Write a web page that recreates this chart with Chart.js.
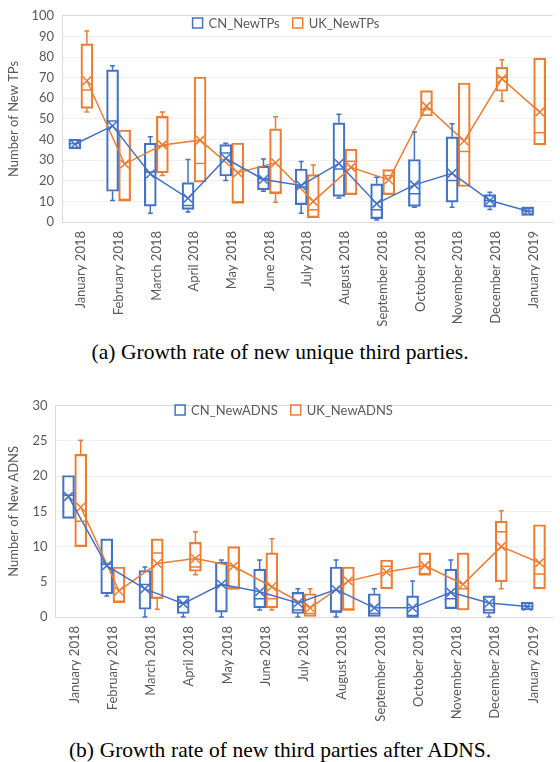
<!DOCTYPE html>
<html><head><meta charset="utf-8">
<script src="https://cdn.jsdelivr.net/npm/chart.js@4.4.1/dist/chart.umd.min.js"></script>
<style>
html,body{margin:0;padding:0;background:#fff;}
body{width:560px;height:762px;position:relative;overflow:hidden;}
.wrap{position:absolute;left:0;width:560px;height:335px;}
.cap{position:absolute;left:0;width:560px;text-align:center;font-family:"Liberation Serif","Times New Roman",serif;font-size:21.5px;line-height:24px;color:#000;word-spacing:0.3px;white-space:nowrap;}
</style></head>
<body>
<div class="wrap" style="top:0"><canvas id="c1"></canvas></div>
<div class="cap" style="top:340px">(a) Growth rate of new unique third parties.</div>
<div class="wrap" style="top:390px"><canvas id="c2"></canvas></div>
<div class="cap" style="top:738px">(b) Growth rate of new third parties after ADNS.</div>
<script>
const months = ['January 2018','February 2018','March 2018','April 2018','May 2018','June 2018','July 2018','August 2018','September 2018','October 2018','November 2018','December 2018','January 2019'];

// (a) New TPs
const tpCnMin  = [35.5,10.4, 4.3, 4.8,20.1,14.9, 4.3,11.6, 1.0, 7.2, 7.2, 6.1, 3.2];
const tpCnQ1   = [35.5,14.9, 7.7, 6.1,22.3,15.6, 8.4,12.4, 1.6, 7.6, 9.6, 7.2, 3.2];
const tpCnMed  = [38.0,49.0,24.3, 8.0,33.5,21.0,17.0,25.7, 6.0,13.7,20.1,10.4, 5.3];
const tpCnQ3   = [40.2,73.8,38.2,19.1,37.5,27.1,25.7,48.1,18.5,30.3,41.3,13.3, 7.2];
const tpCnMax  = [40.2,75.8,41.4,30.3,38.2,30.5,29.4,52.2,21.7,43.7,47.7,14.4, 7.2];
const tpCnMean = [37.7,46.6,23.3,11.5,30.8,20.6,17.7,28.4, 8.9,18.0,23.6,10.4, 5.3];
const tpUkMin  = [53.4,10.4,22.5,19.3, 9.3, 9.6, 2.1,13.3,13.3,51.4,17.2,58.6,37.4];
const tpUkQ1   = [55.1,10.4,23.8,19.3, 9.3,13.9, 2.1,13.3,13.3,51.4,17.2,63.4,37.4];
const tpUkMed  = [64.0,10.4,37.0,28.4, 9.3,13.9, 6.0,29.4,22.5,54.6,34.2,70.1,43.3];
const tpUkQ3   = [86.4,44.6,51.2,70.3,38.3,45.2,23.0,35.3,25.4,63.7,67.4,75.0,79.5];
const tpUkMax  = [92.6,44.6,53.3,70.3,38.3,51.0,27.6,35.3,25.4,63.7,67.4,78.7,79.5];
const tpUkMean = [68.5,28.1,37.4,39.7,23.9,28.7,10.0,26.5,20.4,56.2,39.3,69.5,53.3];

// (b) New ADNS
const adCnMin  = [14.0, 3.0, 0.0, 0.0, 0.0, 1.0, 0.0, 0.0, 0.0, 0.0, 1.2, 0.0, 1.0];
const adCnQ1   = [14.0, 3.3, 1.1, 0.5, 0.7, 1.3, 0.5, 0.7, 0.0, 0.0, 1.2, 0.5, 1.0];
const adCnMed  = [17.3, 7.5, 4.6, 2.0, 4.5, 2.6, 1.0, 0.7, 0.5, 0.0, 2.6, 1.0, 1.5];
const adCnQ3   = [20.1,11.1, 6.6, 3.0, 7.8, 6.8, 3.5, 7.1, 3.3, 3.0, 6.8, 3.0, 2.1];
const adCnMax  = [20.1,11.1, 7.1, 3.0, 8.1, 8.1, 4.0, 8.1, 4.0, 5.1, 8.1, 3.0, 2.1];
const adCnMean = [17.1, 7.3, 4.0, 1.9, 4.65,3.6, 2.0, 3.9, 1.3, 1.3, 3.5, 2.0, 1.5];
const adUkMin  = [10.0, 2.1, 1.1, 6.0, 4.0, 1.0, 0.0, 1.0, 4.0, 6.0, 1.0, 4.0, 4.0];
const adUkQ1   = [10.0, 2.1, 2.6, 6.5, 4.0, 1.3, 0.0, 1.0, 4.0, 6.0, 1.0, 5.0, 4.0];
const adUkMed  = [13.6, 2.1, 9.1, 7.1, 4.0, 2.6, 0.5, 1.0, 7.2, 6.0, 4.0,12.1, 6.1];
const adUkQ3   = [23.1, 7.1,11.1,10.6,10.0, 9.1, 3.3, 7.1, 8.1, 9.1, 9.1,13.6,13.1];
const adUkMax  = [25.1, 7.1,11.1,12.1,10.0,11.1, 4.0, 7.1, 8.1, 9.1, 9.1,15.1,13.1];
const adUkMean = [15.6, 3.7, 7.6, 8.3, 7.2, 4.3, 1.3, 5.1, 6.4, 7.3, 4.65,10.0,7.7];

const BLUE = '#4472C4', ORANGE = '#ED7D31', TXT = '#595959';
const OFF = 0.16;        // half-group offset in category units
const BOX_W = 12;        // box width in px

function whiskerPlugin(series) {
  return {
    id: 'whiskers',
    afterDatasetsDraw(chart) {
      const ctx = chart.ctx, ys = chart.scales.y;
      series.forEach((s, di) => {
        const meta = chart.getDatasetMeta(di);
        ctx.save();
        ctx.strokeStyle = s.color;
        ctx.lineWidth = 1.5;
        meta.data.forEach((el, i) => {
          const x = el.x, hw = el.width / 2;
          const pMin = ys.getPixelForValue(s.min[i]);
          const pQ1 = ys.getPixelForValue(s.q1[i]);
          const pMed = ys.getPixelForValue(s.med[i]);
          const pQ3 = ys.getPixelForValue(s.q3[i]);
          const pMax = ys.getPixelForValue(s.max[i]);
          ctx.beginPath();
          if (s.max[i] > s.q3[i]) {
            ctx.moveTo(x, pQ3); ctx.lineTo(x, pMax);
            ctx.moveTo(x - 2.5, pMax); ctx.lineTo(x + 2.5, pMax);
          }
          if (s.min[i] < s.q1[i]) {
            ctx.moveTo(x, pQ1); ctx.lineTo(x, pMin);
            ctx.moveTo(x - 2.5, pMin); ctx.lineTo(x + 2.5, pMin);
          }
          ctx.moveTo(x - hw, pMed); ctx.lineTo(x + hw, pMed);
          ctx.stroke();
        });
        ctx.restore();
      });
    }
  };
}

function legendPlugin(items, cx, cy) {
  return {
    id: 'boxLegend',
    afterDraw(chart) {
      const ctx = chart.ctx;
      ctx.save();
      ctx.font = '13px Lato';
      const box = 10, gap = 6, sep = 13;
      const ws = items.map(it => ctx.measureText(it.text).width);
      const total = ws.reduce((a, w) => a + box + gap + w, 0) + sep * (items.length - 1);
      let x = cx - total / 2;
      items.forEach((it, k) => {
        ctx.strokeStyle = it.color;
        ctx.lineWidth = 1.5;
        ctx.strokeRect(x, cy - box / 2, box, box);
        ctx.fillStyle = TXT;
        ctx.textBaseline = 'middle';
        ctx.textAlign = 'left';
        ctx.fillText(it.text, x + box + gap, cy + 0.5);
        x += box + gap + ws[k] + sep;
      });
      ctx.restore();
    }
  };
}

function makeChart(id, cfg) {
  const series = [
    {color: BLUE, min: cfg.cn.min, q1: cfg.cn.q1, med: cfg.cn.med, q3: cfg.cn.q3, max: cfg.cn.max},
    {color: ORANGE, min: cfg.uk.min, q1: cfg.uk.q1, med: cfg.uk.med, q3: cfg.uk.q3, max: cfg.uk.max}
  ];
  const boxDs = (lbl, s, color, off) => ({
    type: 'bar', label: lbl, order: 2,
    data: s.q1.map((v, i) => ({x: i + off, y: [v, s.q3[i]]})),
    backgroundColor: 'rgba(0,0,0,0)', borderColor: color, borderWidth: 1.5,
    borderSkipped: false, grouped: false, barThickness: BOX_W,
    xAxisID: 'xl', yAxisID: 'y'
  });
  const meanDs = (lbl, mean, color, off) => ({
    type: 'line', label: lbl, order: 1,
    data: mean.map((v, i) => ({x: i + off, y: v})),
    borderColor: color, backgroundColor: color, borderWidth: 1.5,
    pointStyle: 'crossRot', pointRadius: 6, pointBorderWidth: 1.5,
    pointBorderColor: color, fill: false, tension: 0,
    xAxisID: 'xl', yAxisID: 'y'
  });
  return new Chart(document.getElementById(id), {
    type: 'bar',
    data: {
      labels: months,
      datasets: [
        boxDs(cfg.legend[0], cfg.cn, BLUE, -OFF),
        boxDs(cfg.legend[1], cfg.uk, ORANGE, OFF),
        meanDs(cfg.legend[0] + ' mean', cfg.cn.mean, BLUE, -OFF),
        meanDs(cfg.legend[1] + ' mean', cfg.uk.mean, ORANGE, OFF)
      ]
    },
    options: {
      responsive: true, maintainAspectRatio: false, animation: false,
      layout: {padding: {top: cfg.padTop, right: cfg.padRight, left: 0, bottom: 0}},
      plugins: {legend: {display: false}, tooltip: {enabled: false}},
      scales: {
        x: {
          type: 'category', offset: true,
          grid: {display: false, drawTicks: false},
          border: {display: true, color: '#d9d9d9', width: 1},
          ticks: {autoSkip: false, maxRotation: 90, minRotation: 90, padding: 9,
                  color: TXT, font: {family: 'Lato', size: 13}},
          afterFit: s => { s.height = cfg.xHeight; }
        },
        xl: {type: 'linear', display: false, min: -0.5, max: 12.5, offset: false},
        y: {
          min: 0, max: cfg.yMax,
          ticks: {stepSize: cfg.step, padding: 8, color: TXT, font: {family: 'Lato', size: 13}},
          grid: {drawTicks: false, color: c => (c.tick && c.tick.value === cfg.yMax) ? '#d9d9d9' : '#f0f0f0'},
          border: {display: true, color: '#d9d9d9', width: 1},
          title: {display: true, text: cfg.yTitle, color: TXT, font: {family: 'Lato', size: 13}, padding: {top: 6, bottom: 0}},
          afterFit: s => { s.width = cfg.yWidth; }
        }
      }
    },
    plugins: [whiskerPlugin(series), legendPlugin([
      {text: cfg.legend[0], color: BLUE}, {text: cfg.legend[1], color: ORANGE}
    ], cfg.legendX, cfg.legendY)]
  });
}

function build() {
  makeChart('c1', {
    cn: {min: tpCnMin, q1: tpCnQ1, med: tpCnMed, q3: tpCnQ3, max: tpCnMax, mean: tpCnMean},
    uk: {min: tpUkMin, q1: tpUkQ1, med: tpUkMed, q3: tpUkQ3, max: tpUkMax, mean: tpUkMean},
    legend: ['CN_NewTPs', 'UK_NewTPs'], yTitle: 'Number of New TPs',
    yMax: 100, step: 10, padTop: 12, padRight: 0, xHeight: 113, yWidth: 62,
    legendX: 286, legendY: 23
  });
  makeChart('c2', {
    cn: {min: adCnMin, q1: adCnQ1, med: adCnMed, q3: adCnQ3, max: adCnMax, mean: adCnMean},
    uk: {min: adUkMin, q1: adUkQ1, med: adUkMed, q3: adUkQ3, max: adUkMax, mean: adUkMean},
    legend: ['CN_NewADNS', 'UK_NewADNS'], yTitle: 'Number of New ADNS',
    yMax: 30, step: 5, padTop: 10, padRight: 3, xHeight: 108, yWidth: 55.5,
    legendX: 284, legendY: 20
  });
}
if (document.fonts && document.fonts.load) {
  Promise.all([document.fonts.load('13px Lato'), document.fonts.load('18px "Liberation Serif"')]).then(build, build);
} else { build(); }
</script>
</body></html>
